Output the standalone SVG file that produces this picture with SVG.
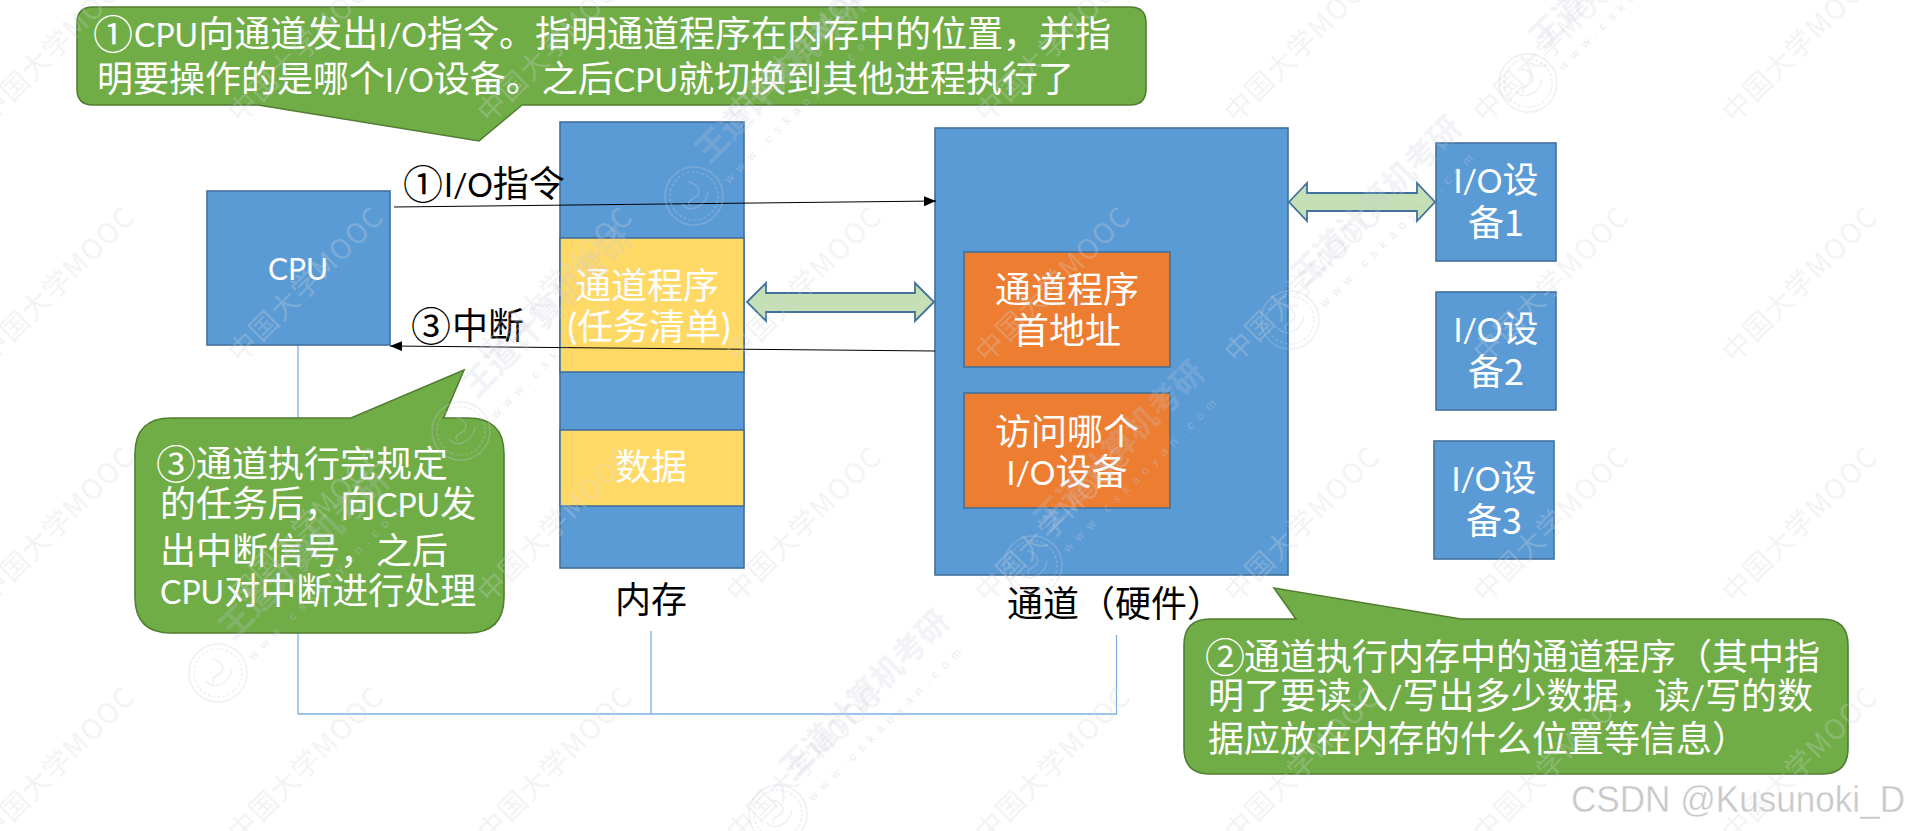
<svg xmlns="http://www.w3.org/2000/svg" xmlns:xlink="http://www.w3.org/1999/xlink" width="1905" height="831" viewBox="0 0 1905 831">
<style>
text{font-family:Lato,"Noto Sans CJK SC",sans-serif;font-size:36px}
.l{font-size:32px}
.d{font-size:36px;font-family:"Noto Sans CJK SC",sans-serif}
.c{font-family:"Noto Sans CJK SC",sans-serif;font-size:40px}
.w{fill:#fff}.k{fill:#000}.m{text-anchor:middle}
.blue{fill:#5B9BD5;stroke:#41719C;stroke-width:1.6}
.yel{fill:#FFD966;stroke:#41719C;stroke-width:1.6}
.org{fill:#ED7D31;stroke:#41719C;stroke-width:1.6}
.call{fill:#70AD47;stroke:#507E32;stroke-width:1.6}
.dbl{fill:#C5E0B4;stroke:#41719C;stroke-width:1.8}
.bus{fill:none;stroke:#7FB0E3;stroke-width:1.3}
.arr{fill:none;stroke:#000;stroke-width:1;marker-end:url(#ah)}
.wm{font-family:"Noto Sans CJK SC",sans-serif;font-size:28px;letter-spacing:1.5px;fill:#d4d6dc;opacity:.27}
.wd{font-family:"Noto Sans CJK SC",sans-serif;font-size:32px;font-weight:700;fill:#c6cade;opacity:.22}
.ww{font-family:"Liberation Sans",sans-serif;font-size:12px;letter-spacing:7px;fill:#c6cade;opacity:.35}
.se{fill:none;stroke:#c6cade;opacity:.3;stroke-width:1.5}
</style>
<defs>
<marker id="ah" markerUnits="userSpaceOnUse" markerWidth="13" markerHeight="11" refX="12" refY="5" orient="auto"><path d="M0 0L12 5L0 10z" fill="#000"/></marker>
<text id="wm" class="wm" x="-14" y="10" transform="rotate(-45)">中国大学MOOC</text>
<g id="seal">
<circle class="se" r="29"/><circle class="se" r="24" stroke-dasharray="3 2"/>
<path class="se" stroke-width="3" d="M-12 8C-4 18 12 10 14-4M-6-14C6-12 8-2 0 2C-6 5-6 8-4 10"/>
<text class="wd" transform="translate(15 -32) rotate(-45)">王道计算机考研</text>
<text class="ww" transform="translate(35 -12) rotate(-45)">www.cskaoyan.com</text>
</g>
</defs>
<rect width="1905" height="831" fill="#fff"/>

<g id="bus">
<path class="bus" d="M298 345V714H1116.500V635M651 631V714"/>
</g>

<g id="cpu"><rect class="blue" x="207" y="191" width="183" height="154"/><text class="w m" x="298" y="280" style="font-size:30px">CPU</text></g>

<g id="memory">
<rect class="blue" x="560" y="122" width="184" height="446"/>
<rect class="yel" x="560" y="238" width="184" height="134"/>
<rect class="yel" x="560" y="430" width="184" height="76"/>
<text class="w m" x="647" y="299">通道程序</text>
<text class="w m" x="649" y="340">(任务清单)</text>
<text class="w m" x="651" y="480">数据</text>
<text class="k m" x="651" y="613">内存</text>
</g>

<g id="channel">
<rect class="blue" x="935" y="128" width="353" height="447"/>
<rect class="org" x="964" y="252" width="206" height="115"/>
<rect class="org" x="964" y="393" width="206" height="115"/>
<text class="w m" x="1067" y="303">通道程序</text>
<text class="w m" x="1067" y="344">首地址</text>
<text class="w m" x="1067" y="445">访问哪个</text>
<text class="w m" x="1067" y="485"><tspan class="l">I/O</tspan>设备</text>
<text class="k" x="1007" y="617">通道（硬件）</text>
</g>

<g id="io1"><rect class="blue" x="1436" y="143" width="120" height="118"/><text class="w m" x="1496" y="193"><tspan class="l">I/O</tspan>设</text><text class="w m" x="1496" y="236">备<tspan class="d">1</tspan></text></g>
<g id="io2"><rect class="blue" x="1436" y="292" width="120" height="118"/><text class="w m" x="1496" y="342"><tspan class="l">I/O</tspan>设</text><text class="w m" x="1496" y="385">备<tspan class="d">2</tspan></text></g>
<g id="io3"><rect class="blue" x="1434" y="441" width="120" height="118"/><text class="w m" x="1494" y="491"><tspan class="l">I/O</tspan>设</text><text class="w m" x="1494" y="534">备<tspan class="d">3</tspan></text></g>

<g id="connectors">
<path class="arr" d="M394 207L936 201"/>
<path class="arr" d="M935 351L390 346"/>
<path class="dbl" d="M747 302L766 283V293H915V283L934 302L915 321V312H766V321Z"/>
<path class="dbl" d="M1289 202L1307 183V193H1417V183L1435 202L1417 221V211H1307V221Z"/>
</g>

<g id="callout1">
<path class="call" d="M93 7H1130Q1146 7 1146 23V89Q1146 105 1130 105H522L479 141L258 105H93Q77 105 77 89V23Q77 7 93 7Z"/>
<text class="w" y="47"><tspan class="c" x="93" dy="2">①</tspan><tspan class="l" x="134" dy="-2">CPU</tspan>向通道发出<tspan class="l">I/O</tspan>指令。指明通道程序在内存中的位置，并指</text>
<text class="w" x="97" y="92">明要操作的是哪个<tspan class="l">I/O</tspan>设备。之后<tspan class="l">CPU</tspan>就切换到其他进程执行了</text>
</g>
<g id="callout3">
<path class="call" d="M171 418H351L464 370L443.500 418H468Q504 418 504 454V597Q504 633 468 633H171Q135 633 135 597V454Q135 418 171 418Z"/>
<text class="w" y="477"><tspan class="c" x="156" dy="2">③</tspan><tspan x="196" dy="-2">通道执行完规定</tspan></text>
<text class="w" x="160" y="517">的任务后，向<tspan class="l">CPU</tspan>发</text>
<text class="w" x="160" y="564">出中断信号，之后</text>
<text class="w" x="160" y="604"><tspan class="l">CPU</tspan>对中断进行处理</text>
</g>
<g id="callout2">
<path class="call" d="M1210 619H1296L1274 588L1461 619H1822Q1848 619 1848 645V748Q1848 774 1822 774H1210Q1184 774 1184 748V645Q1184 619 1210 619Z"/>
<text class="w" y="670"><tspan class="c" x="1205" dy="2">②</tspan><tspan x="1244" dy="-2">通道执行内存中的通道程序（其中指</tspan></text>
<text class="w" x="1208" y="709">明了要读入<tspan class="l">/</tspan>写出多少数据，读<tspan class="l">/</tspan>写的数</text>
<text class="w" x="1208" y="752">据应放在内存的什么位置等信息）</text>
</g>

<g id="labels">
<text class="k" y="197"><tspan class="c" x="403" dy="2">①</tspan><tspan class="l" x="444" dy="-2">I/O</tspan>指令</text>
<text class="k" y="339"><tspan class="c" x="411" dy="2">③</tspan><tspan x="452" dy="-2">中断</tspan></text>
</g>

<g id="watermark">
<use xlink:href="#wm" x="-6" y="107"/><use xlink:href="#wm" x="243" y="107"/><use xlink:href="#wm" x="492" y="107"/><use xlink:href="#wm" x="741" y="107"/><use xlink:href="#wm" x="990" y="107"/><use xlink:href="#wm" x="1239" y="107"/><use xlink:href="#wm" x="1488" y="107"/><use xlink:href="#wm" x="1737" y="107"/>
<use xlink:href="#wm" x="-6" y="347"/><use xlink:href="#wm" x="243" y="347"/><use xlink:href="#wm" x="492" y="347"/><use xlink:href="#wm" x="741" y="347"/><use xlink:href="#wm" x="990" y="347"/><use xlink:href="#wm" x="1239" y="347"/><use xlink:href="#wm" x="1488" y="347"/><use xlink:href="#wm" x="1737" y="347"/>
<use xlink:href="#wm" x="-6" y="587"/><use xlink:href="#wm" x="243" y="587"/><use xlink:href="#wm" x="492" y="587"/><use xlink:href="#wm" x="741" y="587"/><use xlink:href="#wm" x="990" y="587"/><use xlink:href="#wm" x="1239" y="587"/><use xlink:href="#wm" x="1488" y="587"/><use xlink:href="#wm" x="1737" y="587"/>
<use xlink:href="#wm" x="-6" y="827"/><use xlink:href="#wm" x="243" y="827"/><use xlink:href="#wm" x="492" y="827"/><use xlink:href="#wm" x="741" y="827"/><use xlink:href="#wm" x="990" y="827"/><use xlink:href="#wm" x="1239" y="827"/><use xlink:href="#wm" x="1488" y="827"/><use xlink:href="#wm" x="1737" y="827"/>
<use xlink:href="#seal" x="218" y="673"/><use xlink:href="#seal" x="461" y="431"/><use xlink:href="#seal" x="694" y="196"/>
<use xlink:href="#seal" x="778" y="814"/><use xlink:href="#seal" x="1033" y="565"/><use xlink:href="#seal" x="1290" y="320"/><use xlink:href="#seal" x="1528" y="83"/>
</g>

<text x="1571" y="812" style="font-family:'Liberation Sans',sans-serif;font-size:36px;fill:#c8c8c8;stroke:#fff;stroke-width:.4" textLength="334" lengthAdjust="spacingAndGlyphs">CSDN @Kusunoki_D</text>
</svg>
